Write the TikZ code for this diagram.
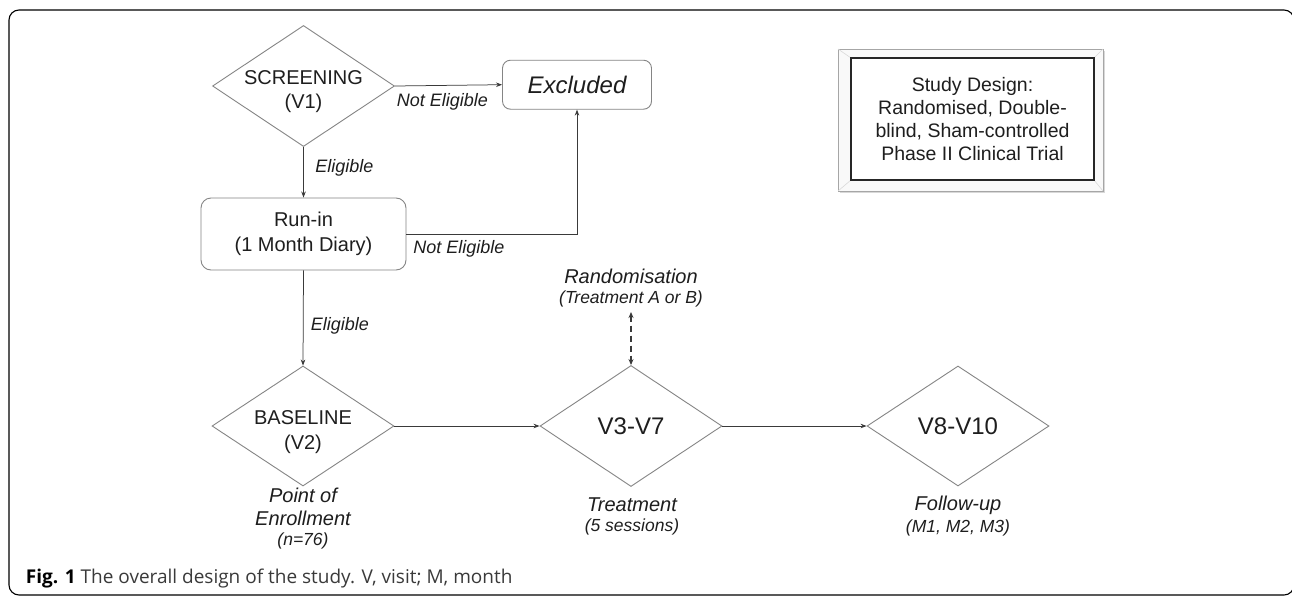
\documentclass[tikz,border=0pt]{standalone}
\usepackage{fontspec}
\setmainfont{Liberation Sans}
\newfontfamily\capfont{Open Sans}
\usetikzlibrary{shapes.geometric,arrows.meta,shadows}
\definecolor{shapec}{HTML}{858585}
\definecolor{arrowc}{HTML}{3A3A3A}
\definecolor{textc}{HTML}{1E1E1E}
\definecolor{captext}{HTML}{3A3A3A}
\begin{document}
\begin{tikzpicture}[x=1pt,y=-1pt,
  arr/.style={draw=arrowc, line width=0.75pt, -{Stealth[length=6pt,width=4.5pt]}},
  dia/.style={diamond, draw=shapec, line width=0.9pt, inner sep=0pt, minimum width=182pt, minimum height=121pt},
  rbox/.style={rectangle, rounded corners=8pt, draw=shapec, line width=0.9pt, inner sep=0pt},
  main/.style={align=center, text=textc, font=\fontsize{20}{24.5}\selectfont},
  big/.style={align=center, text=textc, font=\fontsize{24}{28}\selectfont},
  lbl/.style={text=textc, font=\fontsize{18}{22}\selectfont\itshape},
  note/.style={text=textc, font=\fontsize{20}{23}\selectfont\itshape},
  small/.style={text=textc, font=\fontsize{17.5}{21}\selectfont\itshape}
]
\useasboundingbox[fill=white] (0,0) rectangle (1292,597);
% outer frame
\draw[black, line width=1.1pt, rounded corners=10pt] (9,10) rectangle (1294,595);

% screening
\node[dia] (screen) at (303.5,86) {};
\node[main] (screent) at (303.5,91.5) {SCREENING\\(V1)};
% excluded
\node[rbox, minimum width=149pt, minimum height=49pt, text=textc, font=\fontsize{24}{28}\selectfont\itshape] (excl) at (577,84.7) {Excluded};
% run-in
\node[rbox, rounded corners=10pt, minimum width=205pt, minimum height=72pt, main] (runin) at (303.5,234) {Run-in\\(1 Month Diary)};
% baseline
\node[dia, minimum height=120pt] (base) at (303,426) {};
\node[main] (baset) at (303,432) {BASELINE\\(V2)};
% V3-V7
\node[dia] (v3) at (631,426) {};
\node[big] (v3t) at (631,426) {V3-V7};
% V8-V10
\node[dia, minimum height=120pt] (v8) at (958,426) {};
\node[big] (v8t) at (958,426) {V8-V10};

% arrows
\draw[arr] (screen.east) -- (excl.west);
\node[lbl] (ne1) at (442.5,101.7) {Not Eligible};
\draw[arr] (screen.south) -- (runin.north);
\node[lbl] (el1) at (344.5,168) {Eligible};
\draw[arr] (runin.east) -| (excl.south);
\node[lbl] (ne2) at (459,249.3) {Not Eligible};
\draw[arr] (runin.south) -- (base.north);
\node[lbl] (el2) at (340,326) {Eligible};
\draw[arr] (base.east) -- (v3.west);
\draw[arr] (v3.east) -- (v8.west);

% randomisation
\node[note] (rand) at (631,276.7) {Randomisation};
\node[small] (randsub) at (631,299.3) {(Treatment A or B)};
\coordinate (rtop) at (631,312);
\draw[draw=arrowc, line width=1.3pt, dash pattern=on 6pt off 4pt, {Stealth[length=6pt,width=5pt]}-{Stealth[length=6pt,width=5pt]}] (rtop) -- (v3.north);

% under labels
\node[note] (poi1) at (303,495) {Point of};
\node[note] (poi2) at (303,518.3) {Enrollment};
\node[small] (poi3) at (303,540.7) {(n=76)};
\node[note] (trt1) at (632,505) {Treatment};
\node[small] (trt2) at (632,526.7) {(5 sessions)};
\node[note] (fu1) at (958,505) {Follow-up};
\node[small] (fu2) at (958,527.7) {(M1, M2, M3)};

% study design box (bevelled frame)
\draw[draw=gray!70, fill=gray!5, line width=0.9pt, drop shadow={shadow xshift=1.5pt, shadow yshift=-1.5pt, opacity=0.3}] (838,49) rectangle (1103,191);
\draw[gray!30, line width=0.6pt] (838,49) -- (851,58) (1103,49) -- (1094,58) (838,191) -- (851,180) (1103,191) -- (1094,180);
\node[draw=black!85, fill=white, line width=1.6pt, minimum width=243pt, minimum height=122pt, inner sep=0pt, align=center, text=textc, font=\fontsize{19.5}{23.3}\selectfont] (design) at (972.5,119) {Study Design:\\Randomised, Double-\\blind, Sham-controlled\\Phase II Clinical Trial};

% caption
\node[anchor=base west, inner sep=0pt, text=captext, font=\capfont\fontsize{19}{22}\selectfont] (cap) at (25.7,583) {{\color{black}\textbf{Fig. 1}} The overall design of the study. V, visit; M, month};
\end{tikzpicture}
\end{document}
